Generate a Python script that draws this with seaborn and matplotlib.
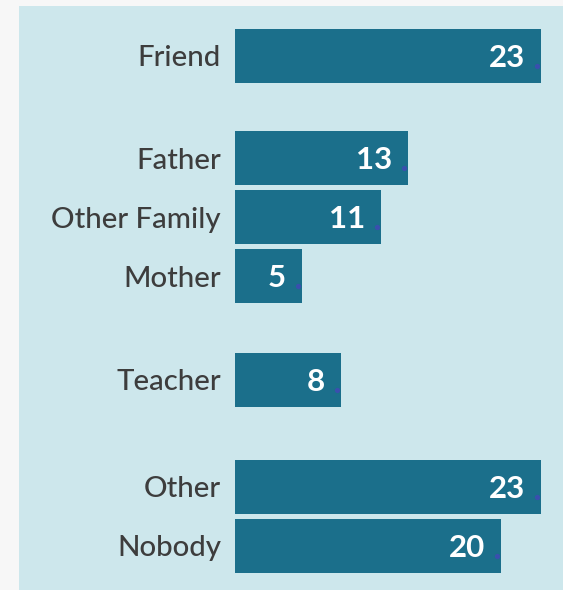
import matplotlib
matplotlib.use("Agg")
import matplotlib.pyplot as plt
import seaborn as sns
import pandas as pd
from matplotlib.patches import Rectangle
from matplotlib.transforms import offset_copy

# Who do you talk to?
categories = ["Friend", "Father", "Other Family", "Mother", "Teacher", "Other", "Nobody"]
counts = [23, 13, 11, 5, 8, 23, 20]
groups = [0, 1, 1, 1, 2, 3, 3]

# Bars in the same group sit one slot apart; extra space opens before each new group
GROUP_GAPS = {1: 0.73, 2: 0.76, 3: 0.81}
positions = []
pos = 0.0
for i, g in enumerate(groups):
    if i > 0:
        pos += 1.0 + (GROUP_GAPS[g] if g != groups[i - 1] else 0.0)
    positions.append(pos)

df = pd.DataFrame({"category": categories, "count": counts, "pos": positions})

BAR = "#1b6f8b"
PANEL = "#cde7ec"
OUTER = "#f7f7f7"
LABEL = "#3d3d3d"
DOT = "#3a4fae"

sns.set_theme(style="white")
plt.rcParams["font.family"] = ["Lato", "DejaVu Sans"]

W, H = 563, 590
fig = plt.figure(figsize=(W / 100, H / 100), dpi=100, facecolor=OUTER)
fig.patches.append(Rectangle((19 / W, 0), (W - 19) / W, (H - 6) / H,
                             transform=fig.transFigure, facecolor=PANEL,
                             edgecolor="none", zorder=-10))

ax = fig.add_axes([235 / W, 0, (W - 235) / W, (H - 6) / H])
ax.set_facecolor("none")
ax.set_zorder(5)

sns.barplot(data=df, x="count", y="pos", orient="h", native_scale=True,
            color=BAR, saturation=1, width=54 / 59, errorbar=None,
            linewidth=0, edgecolor="none", ax=ax)

ax.set_xlim(0, (W - 235) / 13.3)
ax.set_ylim((H - 56) / 59, -(56 - 6) / 59)
ax.axis("off")

lab_tf = offset_copy(ax.transData, fig=fig, x=-14, y=-10.5, units="dots")
val_tf = offset_copy(ax.transData, fig=fig, x=-16, y=-11, units="dots")
dot_tf = offset_copy(ax.transData, fig=fig, x=-4, y=-10, units="dots")

for cat, val, p in zip(categories, counts, positions):
    ax.text(0, p, cat, transform=lab_tf, ha="right", va="baseline",
            fontsize=21.2, fontweight="medium", color=LABEL, clip_on=False)
    ax.text(val, p, str(val), transform=val_tf, ha="right", va="baseline",
            fontsize=22.5, fontweight="bold", color="white")

ax.scatter(df["count"], df["pos"], s=14, color=DOT, transform=dot_tf,
           zorder=6, linewidths=0, clip_on=False)

fig.savefig("out.png", dpi=100, facecolor=OUTER)
